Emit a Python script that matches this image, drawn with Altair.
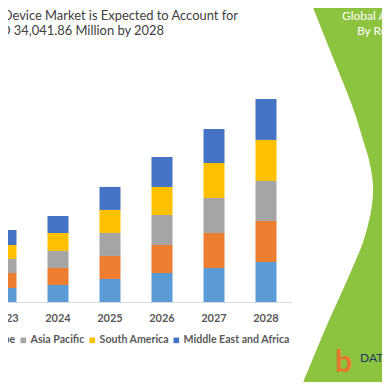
import altair as alt
import pandas as pd

# ---- data (USD million) ----
years = ["2023", "2024", "2025", "2026", "2027", "2028"]
regions = ["North America", "Europe", "Asia Pacific", "South America", "Middle East and Africa"]
colors = ["#5B9BD5", "#ED7D31", "#A5A5A5", "#FFC000", "#4472C4"]
north_america = [2350, 2850, 3860, 4860, 5700, 6710]
europe = [2510, 2850, 3860, 4700, 5870, 6880]
asia_pacific = [2350, 2850, 3860, 5030, 5870, 6710]
south_america = [2350, 3020, 3860, 4700, 5870, 6880]
middle_east_africa = [2510, 2850, 3860, 5030, 5700, 6862]

title_line1 = "Device Market is Expected to Account for"
title_line2 = "USD 34,041.86 Million by 2028"
panel_line1 = "Global A"
panel_line2 = "By Rep"
logo_text = "DATA"
logo_glyph = "b"

# decorative green side panel outline (left edge, pixels)
panel_edge_y = [-8, 57, 92, 112, 132, 152, 177, 197, 217, 237, 254, 277, 317, 382]
panel_edge_x = [302, 328, 342, 349, 355, 361, 365, 364, 360, 354, 347, 337, 319, 292]

series = [north_america, europe, asia_pacific, south_america, middle_east_africa]
rows = []
for ri, (reg, vals) in enumerate(zip(regions, series)):
    for y, v in zip(years, vals):
        rows.append({"year": y, "region": reg, "value": v, "order": ri})
df = pd.DataFrame(rows)

FONT = "Lato"
GREEN = "#8DC33F"

panel_df = pd.DataFrame({"py": panel_edge_y, "px": panel_edge_x})
panel_df["rx"] = 420
panel = alt.Chart(panel_df).mark_area(
    orient="horizontal", interpolate="catmull-rom", color=GREEN
).encode(
    y=alt.Y("py:Q", scale=None, axis=None),
    x=alt.X("px:Q", scale=None, axis=None),
    x2="rx:Q",
)

bars = alt.Chart(df).mark_bar(width=21).encode(
    x=alt.X("year:N", sort=years, title=None,
            scale=alt.Scale(range=[-28, 284], paddingInner=0, paddingOuter=0),
            axis=alt.Axis(labelAngle=0, ticks=False, grid=False, domainColor="#D9D9D9",
                          labelColor="#595959", labelFont=FONT, labelFontSize=11,
                          labelFontWeight="bold", labelPadding=10, zindex=1)),
    y=alt.Y("value:Q", stack="zero", scale=alt.Scale(domain=[0, 49300], nice=False), axis=None),
    color=alt.Color("region:N", sort=regions,
                    scale=alt.Scale(domain=regions, range=colors),
                    legend=alt.Legend(title=None, orient="none", direction="horizontal",
                                      legendX=-124, legendY=327, symbolType="square",
                                      symbolSize=32, symbolStrokeWidth=0, labelOffset=2,
                                      columnPadding=2, labelFont=FONT, labelFontSize=10.6,
                                      labelFontWeight="bold", labelColor="#595959")),
    order=alt.Order("order:Q"),
)

def text_layer(txt, x, y, size, color, align="left", weight="normal"):
    return alt.Chart(alt.Data(values=[{"t": txt}])).mark_text(
        align=align, baseline="alphabetic", font=FONT, fontSize=size, color=color, fontWeight=weight
    ).encode(text="t:N", x=alt.value(x), y=alt.value(y))

chart = alt.layer(
    panel,
    bars,
    text_layer(title_line1, 230, 12, 12.9, "#404040", align="right"),
    text_layer(title_line2, 156, 26.5, 12.9, "#404040", align="right"),
    text_layer(panel_line1, 334, 12, 12, "#FFFFFF"),
    text_layer(panel_line2, 349, 27, 12, "#FFFFFF"),
    text_layer(logo_glyph, 327, 364, 30, "#E8772E", weight="bold"),
    text_layer(logo_text, 352, 354, 12, "#1F3864"),
).resolve_scale(x="independent", y="independent").properties(
    width=374, height=294,
    autosize=alt.AutoSizeParams(type="none"),
    padding={"left": 0, "top": 0, "right": 0, "bottom": 80},
).configure_view(stroke=None)

chart.save("out.html", embed_options={"renderer": "svg", "actions": False})
